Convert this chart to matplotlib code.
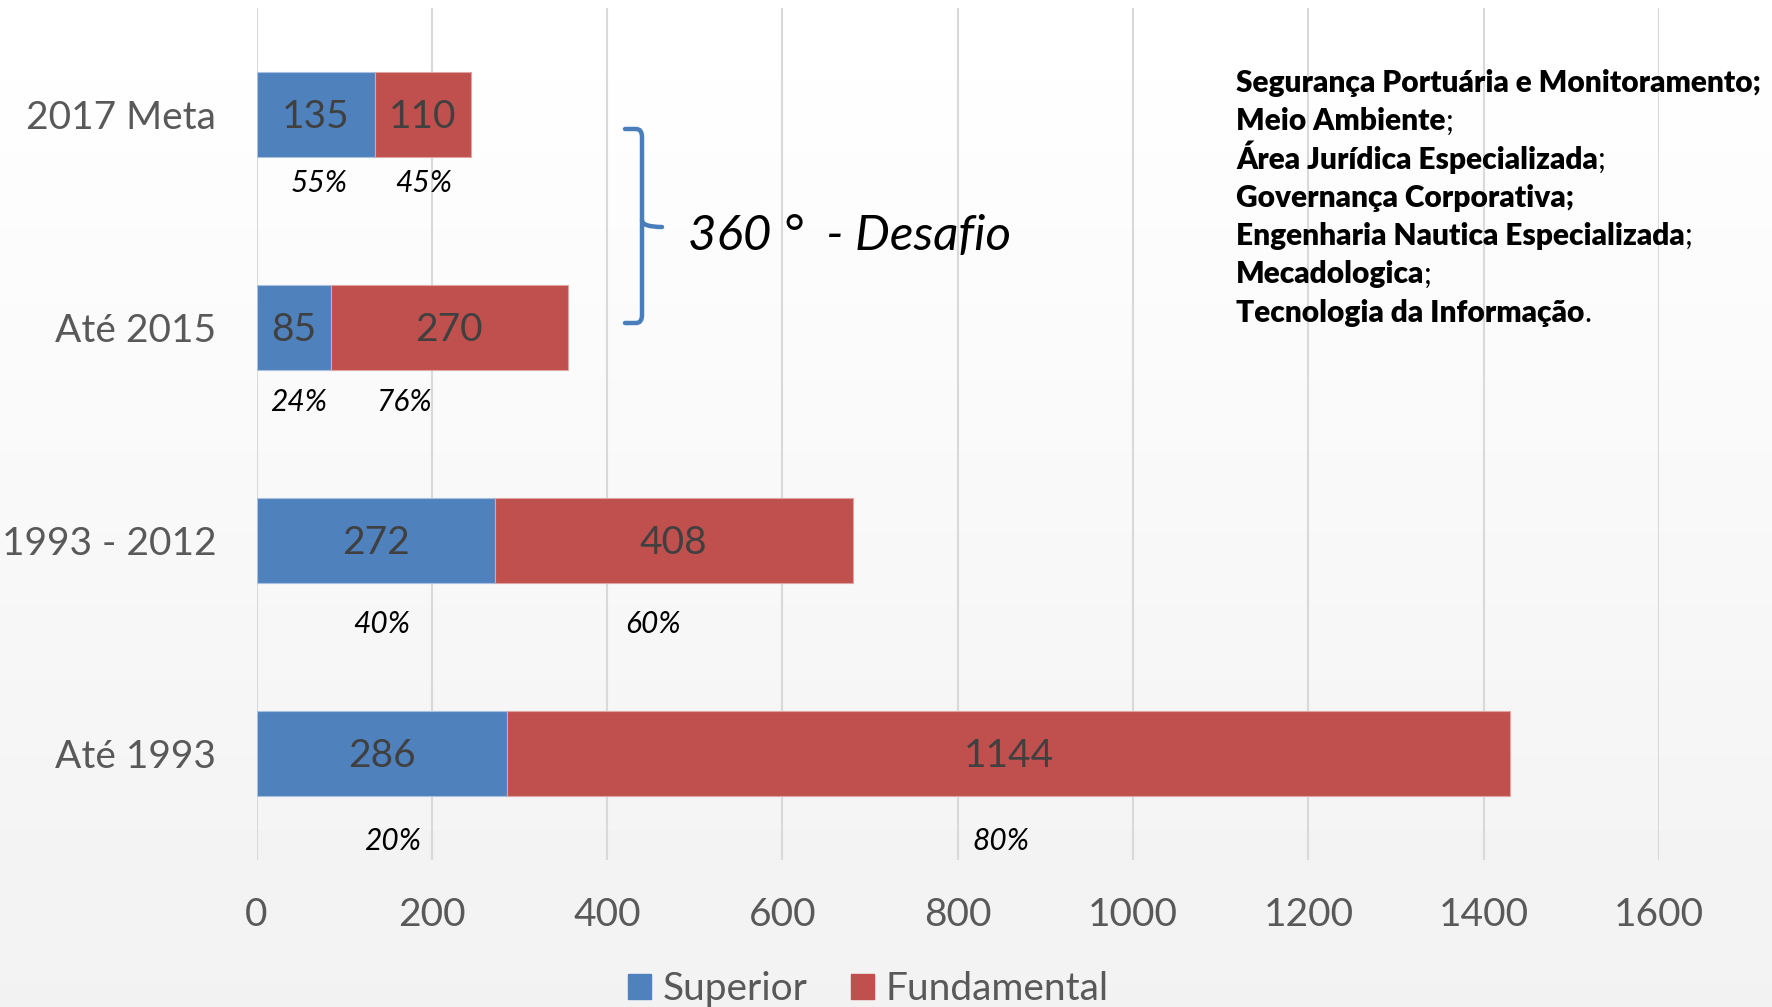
import numpy as np
import matplotlib.pyplot as plt
from matplotlib.patches import Patch, PathPatch
from matplotlib.path import Path

# --------------------------------------------------
# data
# --------------------------------------------------
categories = ["Até 1993", "1993 - 2012", "Até 2015", "2017 Meta"]
superior = [286, 272, 85, 135]
fundamental = [1144, 408, 270, 110]

# where the percentage boxes sit
pct_x_sup = [155, 143, 48, 72]
pct_x_fun = [849, 452, 168, 191]
pct_dy = [0.41, 0.39, 0.35, 0.32]

areas = [
    ("Segurança Portuária e Monitoramento;", ""),
    ("Meio Ambiente", ";"),
    ("Área Jurídica Especializada", ";"),
    ("Governança Corporativa;", ""),
    ("Engenharia Nautica Especializada", ";"),
    ("Mecadologica", ";"),
    ("Tecnologia da Informação", "."),
]

BLUE = "#4f81bd"
RED = "#c0504d"
GRAY = "#595959"
FONT = "Lato"

plt.rcParams["font.family"] = [FONT, "DejaVu Sans"]

W, H = 1772, 1007
fig = plt.figure(figsize=(W / 100, H / 100), dpi=100)

# background gradient (white -> light gray)
bg = fig.add_axes([0, 0, 1, 1], zorder=-10)
grad = np.linspace(0.948, 1.0, 256).reshape(-1, 1)
bg.imshow(grad, aspect="auto", extent=[0, 1, 0, 1], cmap="gray",
          vmin=0, vmax=1, origin="lower")
bg.axis("off")

ax = fig.add_axes([256.5 / W, 1 - 860 / H, (1659 - 256.5) / W, (860 - 8) / H])
ax.set_facecolor("none")

y = np.arange(len(categories))
ax.barh(y, superior, height=0.4, color=BLUE, edgecolor="#a9c1e0", linewidth=0.8, zorder=3)
ax.barh(y, fundamental, left=superior, height=0.4, color=RED,
        edgecolor="#dfa5a3", linewidth=0.8, zorder=3)

for i in range(len(categories)):
    s, f = superior[i], fundamental[i]
    tot = s + f
    ax.text(s / 2, i - 0.01, str(s), ha="center", va="center", fontsize=28,
            color="#404040", zorder=4)
    ax.text(s + f / 2, i - 0.01, str(f), ha="center", va="center", fontsize=28,
            color="#404040", zorder=4)
    ax.text(pct_x_sup[i], i - pct_dy[i], f"{round(100 * s / tot)}%", ha="center",
            va="center", fontsize=21.5, style="italic", color="black")
    ax.text(pct_x_fun[i], i - pct_dy[i], f"{round(100 * f / tot)}%", ha="center",
            va="center", fontsize=21.5, style="italic", color="black")

ax.set_xlim(0, 1600)
ax.set_ylim(-0.5, 3.5)
ax.set_xticks(range(0, 1601, 200))
ax.set_yticks(y)
ax.set_yticklabels(categories)
ax.tick_params(axis="both", length=0, labelsize=28, labelcolor=GRAY)
ax.tick_params(axis="y", pad=29)
ax.tick_params(axis="x", pad=27)
ax.grid(axis="x", color="#d9d9d9", linewidth=1.5, zorder=0)
for sp in ax.spines.values():
    sp.set_visible(False)

# --------------------------------------------------
# brace + "360° - Desafio"
# --------------------------------------------------
def fpt(px, py):
    return (px / W, 1 - py / H)

brace = Path(
    [fpt(625, 129), fpt(636, 129), fpt(642, 129), fpt(642, 137),
     fpt(642, 315), fpt(642, 323), fpt(636, 323), fpt(625, 323)],
    [Path.MOVETO, Path.LINETO, Path.CURVE3, Path.CURVE3,
     Path.LINETO, Path.CURVE3, Path.CURVE3, Path.LINETO],
)
nub = Path([fpt(642, 220), fpt(642, 227), fpt(662, 227)],
           [Path.MOVETO, Path.CURVE3, Path.CURVE3])
for p in (brace, nub):
    fig.add_artist(PathPatch(p, transform=fig.transFigure, fill=False,
                             edgecolor="#4a7ebb", linewidth=3.2,
                             capstyle="round"))

fig.text(688 / W, 1 - 250 / H, "360 °  - Desafio", fontsize=35.5, style="italic",
         color="black", ha="left", va="baseline")

# --------------------------------------------------
# list of areas (bold, some punctuation in regular weight)
# --------------------------------------------------
renderer = fig.canvas.get_renderer()
x0 = 1236 / W
for k, (main, tail) in enumerate(areas):
    yy = 1 - (92 + 38.3 * k) / H
    t = fig.text(x0, yy, main, fontsize=21.5, fontweight="heavy", color="black",
                 ha="left", va="baseline")
    if tail:
        bb = t.get_window_extent(renderer)
        fig.text(bb.x1 / W, yy, tail, fontsize=21.5, color="black",
                 ha="left", va="baseline")

# --------------------------------------------------
# legend
# --------------------------------------------------
handles = [Patch(color=BLUE, label="Superior"), Patch(color=RED, label="Fundamental")]
fig.legend(handles=handles, loc="center", bbox_to_anchor=(0.49, 1 - 989 / H),
           ncol=2, frameon=False, fontsize=28, labelcolor=GRAY,
           handlelength=0.6, handleheight=0.6, handletextpad=0.3,
           columnspacing=1.1)

fig.savefig("out.png", dpi=100)
